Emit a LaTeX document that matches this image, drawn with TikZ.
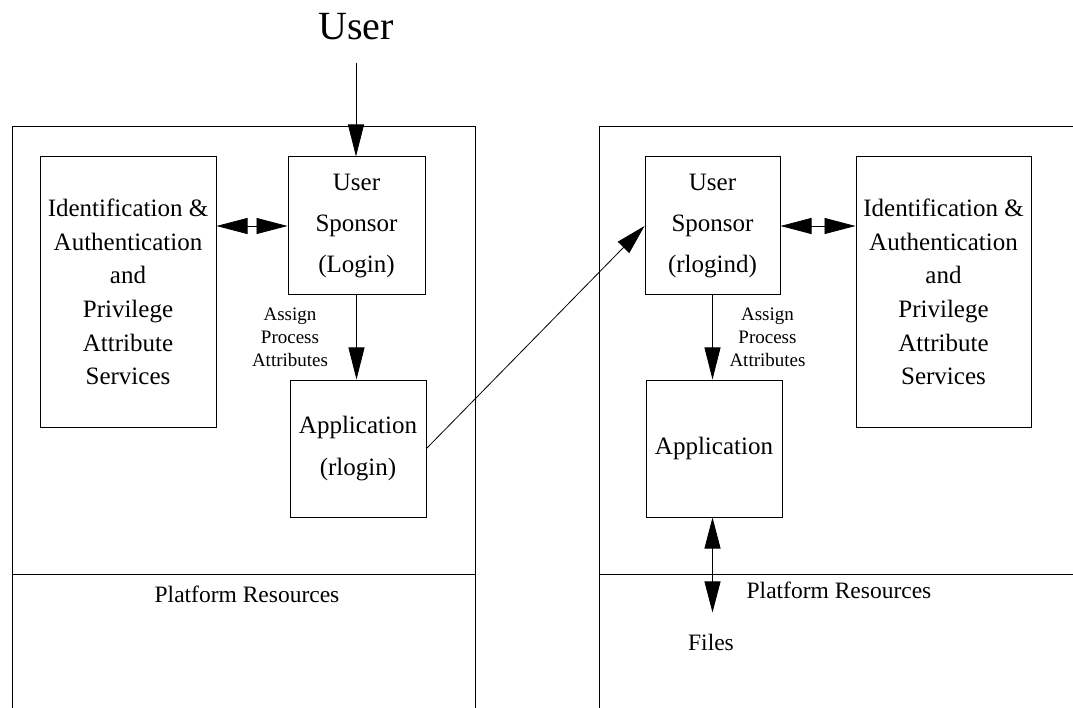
\documentclass[tikz,border=0pt]{standalone}
\usepackage{fontspec}
\setmainfont{Liberation Serif}
\usetikzlibrary{arrows.meta}
\begin{document}
\begin{tikzpicture}[x=1pt,y=-1pt,
  box/.style={draw,line width=1pt,inner sep=0pt,align=center,
    font=\fontsize{25}{33.6}\selectfont},
  frame/.style={line width=1pt},
  lbl/.style={inner sep=0pt,anchor=base},
  small/.style={inner sep=0pt,align=center,font=\fontsize{19}{23}\selectfont},
  conn/.style={line width=0.8pt,-{Triangle[length=32pt,width=16pt]}},
  both/.style={line width=0.8pt,{Triangle[length=31pt,width=16pt]}-{Triangle[length=31pt,width=16pt]}}]
\useasboundingbox (0,0) rectangle (1073,708);

% two hosts, each with a platform resources band
\draw[frame] (12,712) -- (12,127) -- (475,127) -- (475,712);
\draw[frame] (12,574) -- (475,574);
\draw[frame] (599,712) -- (599,127) -- (1077,127);
\draw[frame] (599,574) -- (1077,574);

\node[lbl,font=\fontsize{40}{40}\selectfont] (user) at (356,40) {User};

% local host
\node[box,minimum width=176,minimum height=270] (ia1) at (128,292)
  {Identification \&\\Authentication\\and\\Privilege\\Attribute\\Services};
\node[box,minimum width=137,minimum height=138,font=\fontsize{25}{41}\selectfont] (spL) at (356.5,226)
  {User\\Sponsor\\(Login)};
\node[box,minimum width=136,minimum height=137,font=\fontsize{25}{42}\selectfont] (appL) at (358,448.5)
  {Application\\(rlogin)};
\node[small] (asgL) at (290,337) {Assign\\Process\\Attributes};
\node[lbl,font=\fontsize{23.5}{24}\selectfont] (platL) at (247,602) {Platform Resources};

% remote host
\node[box,minimum width=135,minimum height=138,font=\fontsize{25}{41}\selectfont] (spR) at (712.5,226)
  {User\\Sponsor\\(rlogind)};
\node[box,minimum width=175,minimum height=270] (ia2) at (943.5,292)
  {Identification \&\\Authentication\\and\\Privilege\\Attribute\\Services};
\node[box,minimum width=136,minimum height=137] (appR) at (714,448.5) {Application};
\node[small] (asgR) at (767.5,337) {Assign\\Process\\Attributes};
\node[lbl,font=\fontsize{23.5}{24}\selectfont] (platR) at (839,598) {Platform Resources};
\node[lbl,font=\fontsize{23.5}{24}\selectfont] (files) at (711,650) {Files};

% connectors
\draw[conn,shorten <=22pt] (user.south) -- (user.south |- spL.north);
\draw[both] (spL.west) -- (spL.west -| ia1.east);
\draw[conn] (spL.south) -- (spL.south |- appL.north);
\draw[line width=0.8pt,-{Triangle[length=30pt,width=16pt]}] (appL.east) -- (spR.west);
\draw[both] (spR.east) -- (spR.east -| ia2.west);
\draw[conn] (spR.south) -- (spR.south |- appR.north);
\draw[both,shorten >=21pt] (spR.south |- appR.south) -- (spR.south |- files.north);
\end{tikzpicture}
\end{document}
